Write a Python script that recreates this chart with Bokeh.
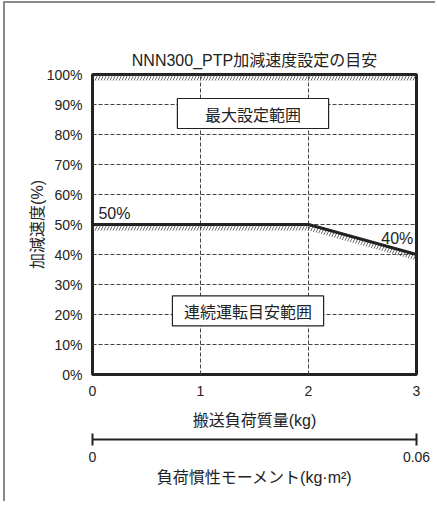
from bokeh.plotting import figure
from bokeh.models import (Range1d, LinearAxis, FixedTicker)
from bokeh.embed import file_html
from bokeh.resources import INLINE
from bokeh.core.properties import value

# ---- data ----
title_text = "NNN300_PTP加減速度設定の目安"
x_label = "搬送負荷質量(kg)"
x2_label = "負荷慣性モーメント(kg·m²)"
y_label = "加減速度(%)"
x_ticks = [0, 1, 2, 3]
y_ticks = [0, 10, 20, 30, 40, 50, 60, 70, 80, 90, 100]
x2_ticks = [0, 0.06]
x2_tick_labels = ["0", "0.06"]
limit_mass = [0, 2, 3]          # kg
limit_accel = [50, 50, 40]      # %
max_accel = 100
band = 2.0                      # hatch band depth (%)
region_labels = ["最大設定範囲", "連続運転目安範囲"]
point_labels = ["50%", "40%"]

LAT = "'Liberation Sans', 'Noto Sans CJK JP'"
JP = "'Noto Sans CJK JP'"
DARK = "#222222"

p = figure(width=432, height=500, output_backend="svg", toolbar_location=None,
           x_range=Range1d(0, 3), y_range=Range1d(0, 100),
           min_border_left=87, min_border_right=21, min_border_top=71,
           min_border_bottom=129)
p.styles = {"margin-left": "3px", "margin-top": "1px",
            "border-left": "2px solid #8a8a8a", "border-top": "2px solid #8a8a8a"}
p.background_fill_color = "white"
p.border_fill_color = "white"
p.outline_line_color = DARK
p.outline_line_width = 3

p.title.text = title_text
p.title.align = "center"
p.title.text_font = LAT
p.title.text_font_size = "16px"
p.title.text_font_style = "normal"
p.title.text_color = "#222222"
p.title.standoff = 11

# grids
p.xgrid.ticker = FixedTicker(ticks=[1, 2])
p.ygrid.ticker = FixedTicker(ticks=y_ticks[1:-1])
for g in (p.xgrid, p.ygrid):
    g.grid_line_color = "#444444"
    g.grid_line_dash = "4 2"
    g.grid_line_width = 1

# primary axes
xa = p.xaxis[0]
xa.ticker = FixedTicker(ticks=x_ticks)
xa.axis_label = x_label
ya = p.yaxis[0]
ya.ticker = FixedTicker(ticks=y_ticks)
ya.major_label_overrides = {t: f"{t}%" for t in y_ticks}
ya.axis_label = y_label
for ax in (xa, ya):
    ax.axis_line_color = None
    ax.major_tick_in = 0
    ax.major_tick_out = 0
    ax.minor_tick_in = 0
    ax.minor_tick_out = 0
    ax.major_label_text_font = LAT
    ax.major_label_text_font_size = "14px"
    ax.major_label_text_color = "#222222"
    ax.axis_label_text_font = LAT
    ax.axis_label_text_font_size = "16px"
    ax.axis_label_text_font_style = "normal"
    ax.axis_label_text_color = "#222222"
xa.major_label_standoff = 11
xa.axis_label_standoff = 13
ya.major_label_standoff = 10
ya.axis_label_standoff = -2

# spacer axis (invisible; only reserves vertical room)
sp = LinearAxis(ticker=FixedTicker(ticks=x_ticks), axis_line_color=None,
                major_tick_out=8, major_tick_in=0, minor_tick_out=0,
                major_tick_line_color="white", major_tick_line_alpha=0.01,
                major_label_overrides={t: "" for t in x_ticks},
                major_label_standoff=0, major_label_text_font_size="1px")
p.add_layout(sp, "below")

# inertia axis
p.extra_x_ranges = {"inertia": Range1d(0, 0.06)}
x2 = LinearAxis(x_range_name="inertia", ticker=FixedTicker(ticks=x2_ticks),
                major_label_overrides=dict(zip(x2_ticks, x2_tick_labels)),
                axis_label=x2_label)
x2.axis_line_color = DARK
x2.axis_line_width = 2
x2.major_tick_in = 6
x2.major_tick_out = 6
x2.major_tick_line_width = 2
x2.major_tick_line_color = DARK
x2.minor_tick_in = 0
x2.minor_tick_out = 0
x2.major_label_standoff = 6
x2.major_label_text_font = LAT
x2.major_label_text_font_size = "14px"
x2.major_label_text_color = "#222222"
x2.axis_label_text_font = LAT
x2.axis_label_text_font_size = "16px"
x2.axis_label_text_font_style = "normal"
x2.axis_label_text_color = "#222222"
x2.axis_label_standoff = 4
p.add_layout(x2, "below")

# hatched bands
top_x = [x_ticks[0], x_ticks[-1], x_ticks[-1], x_ticks[0]]
top_y = [max_accel, max_accel, max_accel - band, max_accel - band]
p.patch(top_x, top_y, fill_color=None, line_color=None,
        hatch_pattern="/", hatch_color="#444444", hatch_scale=6, hatch_weight=0.8)
lim_x = limit_mass + limit_mass[::-1]
lim_y = limit_accel + [v - band for v in limit_accel[::-1]]
p.patch(lim_x, lim_y, fill_color=None, line_color=None,
        hatch_pattern="/", hatch_color="#444444", hatch_scale=6, hatch_weight=0.8)

# limit line
p.line(limit_mass, limit_accel, line_color=DARK, line_width=3)

# region boxes
p.rect(x=[1.486], y=[87], width=1.4, height=10, fill_color="white",
       line_color=DARK, line_width=1.2)
p.rect(x=[1.44], y=[21.2], width=1.4, height=10, fill_color="white",
       line_color=DARK, line_width=1.2)
p.text(x=[1.486, 1.44], y=[87, 21.2], text=region_labels,
       text_font=value(JP), text_font_size="16px", text_color="#222222",
       text_align="center", text_baseline="middle")

# point labels
p.text(x=[0.055], y=[limit_accel[0] + 1.0], text=[point_labels[0]],
       text_font=value(LAT), text_font_size="16px", text_color="#222222",
       text_align="left", text_baseline="bottom")
p.text(x=[2.97], y=[limit_accel[-1] + 2.6], text=[point_labels[1]],
       text_font=value(LAT), text_font_size="16px", text_color="#222222",
       text_align="right", text_baseline="bottom")

open("out.html", "w").write(file_html(p, INLINE))
